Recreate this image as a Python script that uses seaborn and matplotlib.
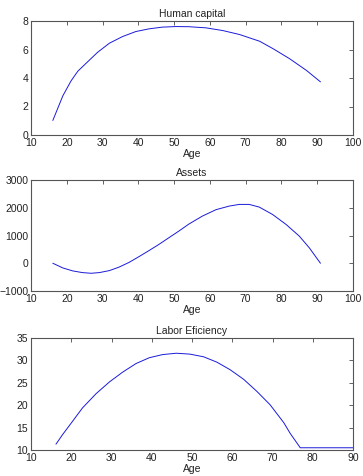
import matplotlib
matplotlib.use("Agg")
import matplotlib.pyplot as plt
import seaborn as sns
import pandas as pd

sns.set_style("white")
plt.rcParams['font.family'] = ['Liberation Sans', 'DejaVu Sans']

hc_age = [16.1, 18.9, 21.2, 23.1, 26.3, 28.6, 31.9, 35.6, 39.3, 43.0, 46.7, 50.4, 54.1,
          58.9, 63.6, 68.3, 73.9, 77.7, 82.3, 87.0, 90.9]
hc_val = [1.02, 2.75, 3.80, 4.48, 5.25, 5.80, 6.44, 6.91, 7.26, 7.45, 7.57, 7.61, 7.60,
          7.52, 7.33, 7.05, 6.58, 6.05, 5.35, 4.53, 3.73]

as_age = [16.1, 18.9, 21.7, 24.4, 26.8, 29.1, 31.9, 34.6, 37.4, 40.2, 43.0, 45.7, 48.5, 51.3,
          54.1, 57.9, 61.7, 65.4, 68.2, 71.0, 73.8, 77.5, 81.3, 85.0, 87.8, 90.9]
as_val = [0, -169, -277, -337, -361, -337, -265, -140, 30, 240, 458, 675, 916, 1157,
          1410, 1699, 1930, 2060, 2120, 2120, 2024, 1759, 1398, 976, 554, 0]

le_age = [16.2, 17.9, 20.4, 22.8, 26.2, 29.5, 32.8, 36.1, 39.4, 42.7, 46.1, 49.5,
          52.9, 56.2, 59.5, 62.8, 66.1, 69.4, 72.8, 74.4, 76.9, 90.0]
le_val = [11.3, 13.5, 16.5, 19.4, 22.6, 25.2, 27.4, 29.3, 30.6, 31.3, 31.6, 31.4,
          30.8, 29.6, 27.9, 25.8, 23.1, 20.1, 16.1, 13.7, 10.5, 10.5]

titles = ["Human capital", "Assets", "Labor Eficiency"]
xlabel = "Age"

fig = plt.figure(figsize=(3.63, 4.76), dpi=100)
left, width = 31/363, 322/363
rects = [
    (left, 1 - 135/476, width, 114/476),
    (left, 1 - 291/476, width, 111/476),
    (left, 1 - 450/476, width, 112/476),
]
data = [(hc_age, hc_val), (as_age, as_val), (le_age, le_val)]
xlims = [(10, 100), (10, 100), (10, 90)]
ylims = [(0, 8), (-1000, 3000), (10, 35)]
yticks = [[0, 2, 4, 6, 8], [-1000, 0, 1000, 2000, 3000], [10, 15, 20, 25, 30, 35]]
xticks = [list(range(10, 101, 10)), list(range(10, 101, 10)), list(range(10, 91, 10))]

for rect, (a, v), t, xl, yl, yt, xt in zip(rects, data, titles, xlims, ylims, yticks, xticks):
    ax = fig.add_axes(rect)
    df = pd.DataFrame({"Age": a, "v": v})
    sns.lineplot(data=df, x="Age", y="v", ax=ax, color=(0.1, 0.1, 0.85), linewidth=0.7)
    ax.set_xlim(*xl)
    ax.set_ylim(*yl)
    ax.set_xticks(xt)
    ax.set_yticks(yt)
    ax.set_title(t, fontsize=7.5, pad=3, color="#222222")
    ax.set_xlabel(xlabel, fontsize=7.5, labelpad=0.5, color="#222222")
    ax.set_ylabel("")
    ax.tick_params(direction="in", length=3, width=0.5, top=True, right=True,
                   labelsize=7.5, colors="#222222")
    ax.tick_params(axis="x", pad=2.5)
    ax.tick_params(axis="y", pad=2.0)
    for s in ax.spines.values():
        s.set_visible(True)
        s.set_linewidth(0.8)
        s.set_color("#555555")

fig.savefig("out.png", dpi=100)
